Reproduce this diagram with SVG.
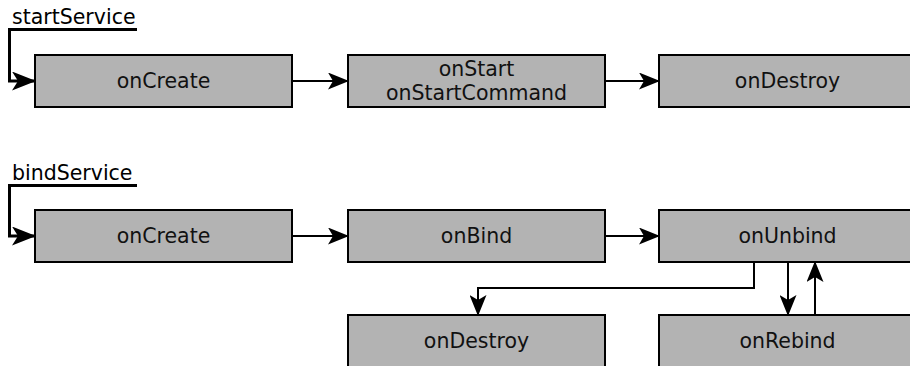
<svg xmlns="http://www.w3.org/2000/svg" width="910" height="366" viewBox="0 0 910 366">
  <defs>
    <marker id="arrow" viewBox="0 0 21 17" refX="20" refY="8.5" markerWidth="21" markerHeight="17" markerUnits="userSpaceOnUse" orient="auto">
      <path d="M0,0 L21,8.5 L0,17 L5,8.5 Z" fill="#000"/>
    </marker>
    <marker id="arrow-big" viewBox="0 0 24 19" refX="23" refY="9.5" markerWidth="24" markerHeight="19" markerUnits="userSpaceOnUse" orient="auto">
      <path d="M0,0 L24,9.5 L0,19 L6,9.5 Z" fill="#000"/>
    </marker>
    <style>
      .box { fill: #b3b3b3; stroke: #000; stroke-width: 2; }
      .lbl { font-family: "DejaVu Sans", sans-serif; font-size: 20.5px; fill: #111; text-anchor: middle; }
      .call { font-family: "DejaVu Sans", sans-serif; font-size: 20.5px; fill: #000; }
      .edge { fill: none; stroke: #000; stroke-width: 2; marker-end: url(#arrow); }
      .entry { fill: none; stroke: #000; stroke-width: 3; marker-end: url(#arrow-big); }
    </style>
  </defs>

  <!-- started service lifecycle -->
  <text class="call" x="12" y="24">startService</text>
  <g id="s-onCreate"><rect class="box" x="35" y="55" width="257" height="52"/><text class="lbl" x="163.5" y="88">onCreate</text></g>
  <g id="s-onStart"><rect class="box" x="348" y="55" width="257" height="52"/><text class="lbl" x="476.5" y="76">onStart</text><text class="lbl" x="476.5" y="100">onStartCommand</text></g>
  <g id="s-onDestroy"><rect class="box" x="659" y="55" width="257" height="52"/><text class="lbl" x="787.5" y="88">onDestroy</text></g>

  <!-- bound service lifecycle -->
  <text class="call" x="12" y="180">bindService</text>
  <g id="b-onCreate"><rect class="box" x="35" y="210" width="257" height="52"/><text class="lbl" x="163.5" y="243">onCreate</text></g>
  <g id="b-onBind"><rect class="box" x="348" y="210" width="257" height="52"/><text class="lbl" x="476.5" y="243">onBind</text></g>
  <g id="b-onUnbind"><rect class="box" x="659" y="210" width="257" height="52"/><text class="lbl" x="787.5" y="243">onUnbind</text></g>
  <g id="b-onDestroy"><rect class="box" x="348" y="315" width="257" height="52"/><text class="lbl" x="476.5" y="348">onDestroy</text></g>
  <g id="b-onRebind"><rect class="box" x="659" y="315" width="257" height="52"/><text class="lbl" x="787.5" y="348">onRebind</text></g>

  <g id="connectors">
    <path class="entry" d="M137,29.5 H9.5 V81 H35"/>
    <path class="edge" d="M292,81 H348"/>
    <path class="edge" d="M605,81 H659"/>
    <path class="entry" d="M137,185.5 H9.5 V236 H35"/>
    <path class="edge" d="M292,236 H348"/>
    <path class="edge" d="M605,236 H659"/>
    <path class="edge" d="M754,262 V288 H478 V315"/>
    <path class="edge" d="M788,262 V315"/>
    <path class="edge" d="M815,315 V262"/>
  </g>
</svg>
